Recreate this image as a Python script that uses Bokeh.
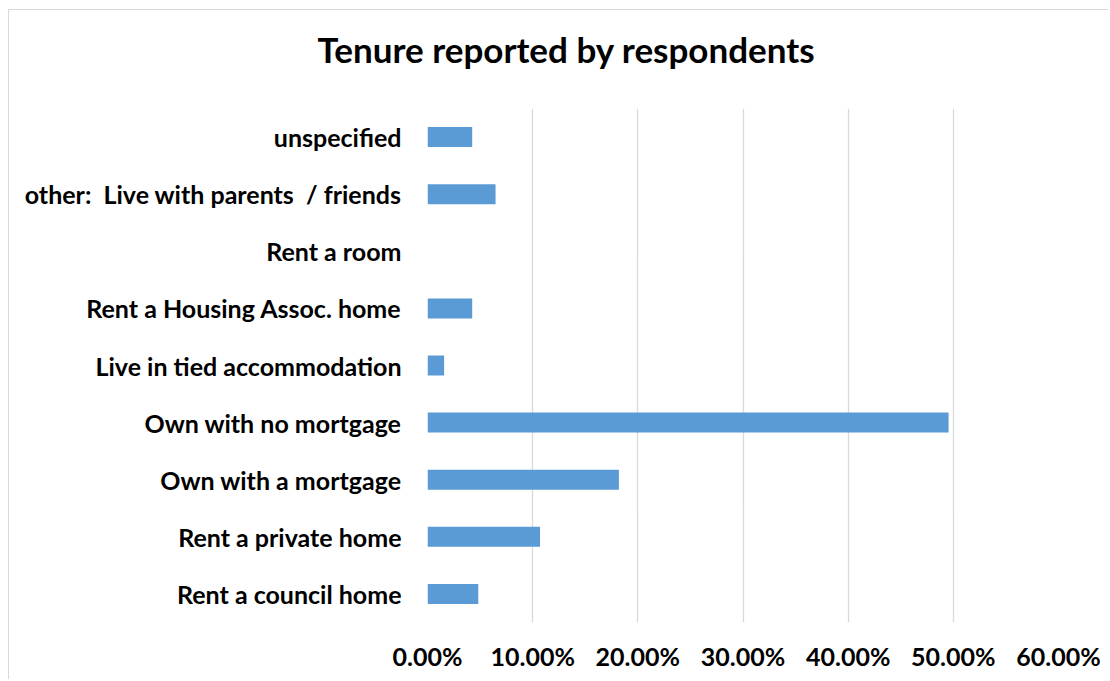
from bokeh.plotting import figure
from bokeh.models import FixedTicker, NumeralTickFormatter, Title
from bokeh.embed import file_html
from bokeh.resources import INLINE

categories = [
    "Rent a council home",
    "Rent a private home",
    "Own with a mortgage",
    "Own with no mortgage",
    "Live in tied accommodation",
    "Rent a Housing Assoc. home",
    "Rent a room",
    "other:\u00a0 Live with parents\u00a0 / friends",
    "unspecified",
]
shares = [0.0483, 0.107, 0.182, 0.4955, 0.0158, 0.0425, 0.0, 0.0647, 0.0425]
x_ticks = [0.0, 0.1, 0.2, 0.3, 0.4, 0.5, 0.6]
title_text = "Tenure reported by respondents"

FONT = "Lato"

p = figure(
    width=1100, height=670,
    y_range=categories, x_range=(0, 0.6),
    output_backend="svg", toolbar_location=None,
    min_border_left=418, min_border_right=51,
    min_border_top=98, min_border_bottom=58,
    title=None,
)
p.styles = {
    "margin-left": "8px", "margin-top": "9px",
    "border-left": "1px solid #d9d9d9", "border-top": "1px solid #d9d9d9",
}

# spacer panel next to the frame, then the real title above it
p.add_layout(Title(text=" ", text_font_size="2px", standoff=30), "above")
p.add_layout(Title(
    text=title_text, align="left", offset=-110,
    text_font=FONT, text_font_style="bold", text_font_size="35px",
    text_color="#000000", vertical_align="bottom", standoff=10,
), "above")

p.hbar(y=categories, right=shares, left=0, height=0.35,
       fill_color="#5B9BD5", line_color=None)

p.outline_line_color = None
p.ygrid.grid_line_color = None
p.xgrid.grid_line_color = "#d9d9d9"
p.xgrid.grid_line_width = 1.3
p.xaxis.ticker = FixedTicker(ticks=x_ticks)
p.xaxis.formatter = NumeralTickFormatter(format="0.00%")

for ax in (p.xaxis, p.yaxis):
    ax.axis_line_color = None
    ax.major_tick_line_color = None
    ax.minor_tick_line_color = None
    ax.major_label_text_font = FONT
    ax.major_label_text_font_style = "bold"
    ax.major_label_text_font_size = "25px"
    ax.major_label_text_color = "#000000"
p.xaxis.major_label_standoff = 12
p.yaxis.major_label_standoff = 20

open("out.html", "w").write(file_html(p, INLINE))
